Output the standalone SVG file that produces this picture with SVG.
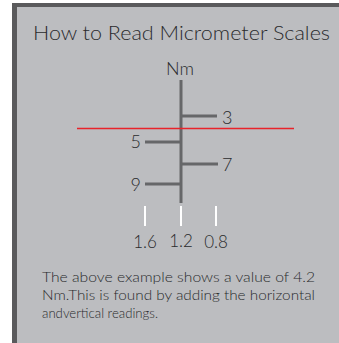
<svg xmlns="http://www.w3.org/2000/svg" width="339" height="343" viewBox="0 0 339 343">
<style>
.t{font-family:Lato,"Liberation Sans",sans-serif;font-weight:300;fill:#2a2b2d}
.ln{stroke:#666769;stroke-width:3;fill:none}
.wt{stroke:#ffffff;stroke-width:2}
</style>
<rect x="0" y="0" width="339" height="343" fill="#ffffff"/>
<g id="panel">
<rect x="12" y="3" width="327" height="340" fill="#bcbdc0"/>
<rect x="12" y="3" width="327" height="4" fill="#5a5a5c"/>
<rect x="12" y="3" width="5" height="340" fill="#5a5a5c"/>
</g>
<g id="title"><text class="t" x="33" y="40" font-size="19" textLength="297" lengthAdjust="spacingAndGlyphs">How to Read Micrometer Scales</text></g>
<g id="unit"><text class="t" x="180" y="75" font-size="18" text-anchor="middle">Nm</text></g>
<g id="connectors">
<line class="ln" x1="181" y1="80" x2="181" y2="203"/>
<line class="ln" x1="181" y1="116" x2="217" y2="116"/>
<line class="ln" x1="145" y1="142" x2="181" y2="142"/>
<line class="ln" x1="181" y1="164" x2="218" y2="164"/>
<line class="ln" x1="145" y1="184" x2="181" y2="184"/>
<line x1="77" y1="128.5" x2="294" y2="128.5" stroke="#e8232a" stroke-width="1.5"/>
<line class="wt" x1="145" y1="206" x2="145" y2="226"/>
<line class="wt" x1="181" y1="206" x2="181" y2="226"/>
<line class="wt" x1="216" y1="206" x2="216" y2="226"/>
</g>
<g id="n3"><text class="t" x="222" y="124" font-size="18">3</text></g>
<g id="n5"><text class="t" x="141" y="148" font-size="18" text-anchor="end">5</text></g>
<g id="n7"><text class="t" x="222" y="171" font-size="18">7</text></g>
<g id="n9"><text class="t" x="141" y="191" font-size="18" text-anchor="end">9</text></g>
<g id="l16"><text class="t" x="145" y="248" font-size="17" text-anchor="middle">1.6</text></g>
<g id="l12"><text class="t" x="181" y="247" font-size="17" text-anchor="middle">1.2</text></g>
<g id="l08"><text class="t" x="216" y="248" font-size="17" text-anchor="middle">0.8</text></g>
<g id="caption">
<text class="t" x="42" y="282" font-size="14" textLength="273" lengthAdjust="spacingAndGlyphs">The above example shows a value of 4.2</text>
<text class="t" x="42" y="300" font-size="14" textLength="273" lengthAdjust="spacingAndGlyphs">Nm.This is found by adding the horizontal</text>
<text class="t" x="42" y="318" font-size="14" textLength="116" lengthAdjust="spacingAndGlyphs">andvertical readings.</text>
</g>
</svg>
